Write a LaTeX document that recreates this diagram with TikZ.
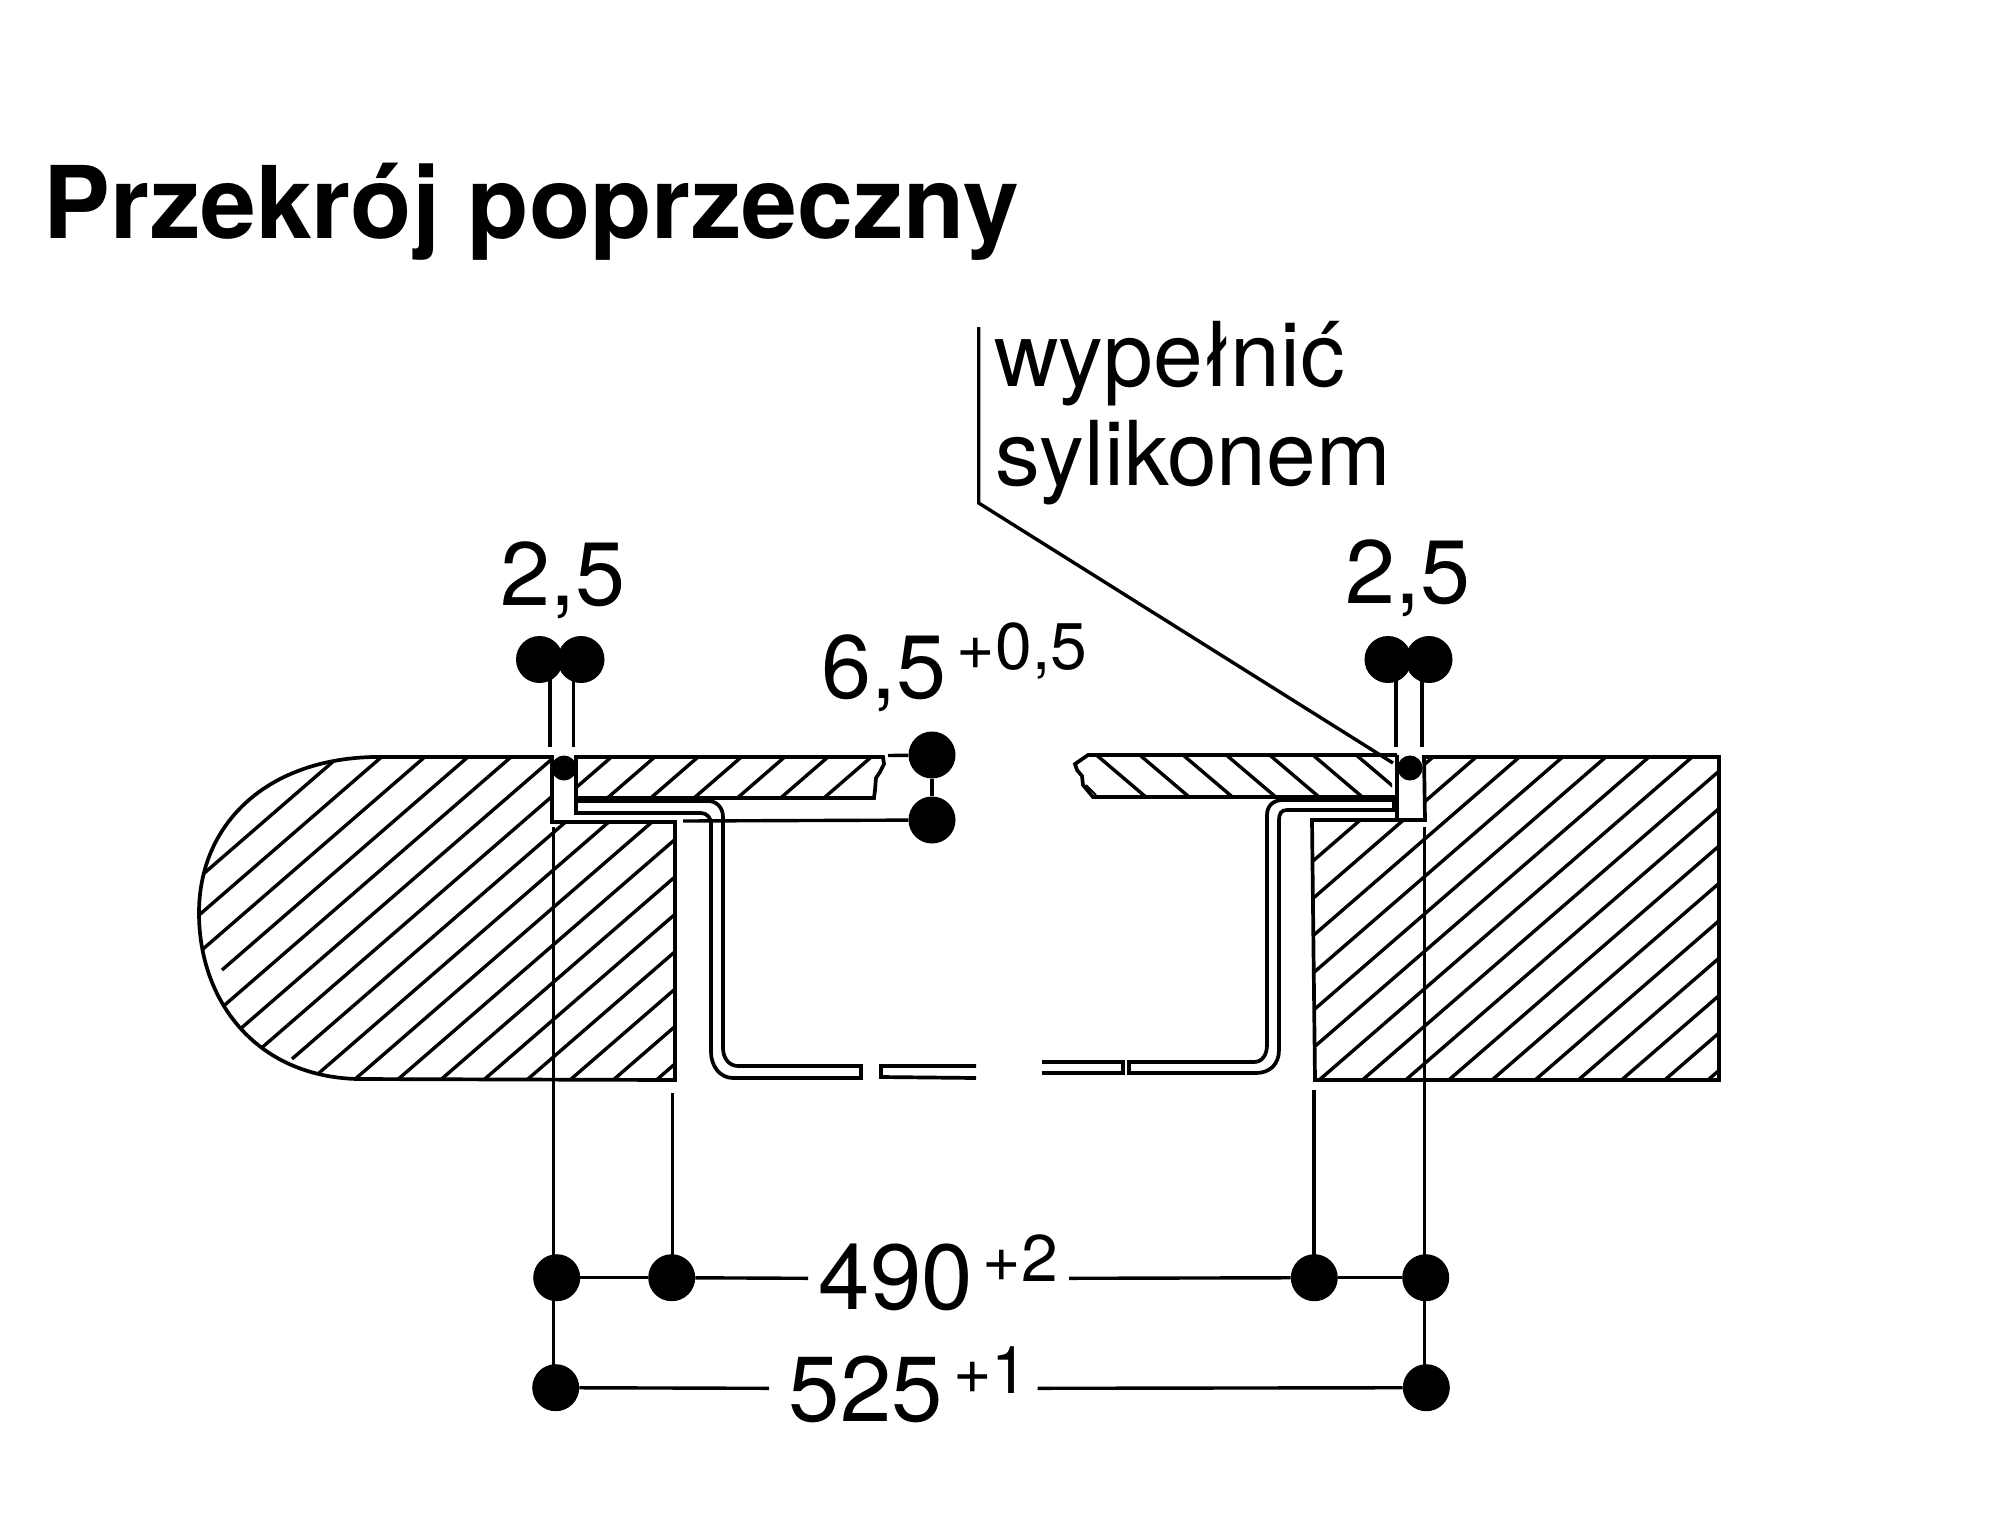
\documentclass[tikz,border=0pt]{standalone}
\usepackage{fontspec}
\setmainfont{TeX Gyre Heros}
\tikzset{
  outline/.style={line width=3.7pt,line join=miter},
  hatchline/.style={line width=3.4pt},
  dimline/.style={line width=3.4pt},
  dimdot/.style={circle,fill=black,inner sep=0pt,minimum size=47pt},
  sealdot/.style={circle,fill=black,inner sep=0pt,minimum size=25pt},
  big/.style={anchor=base,inner sep=0pt,font=\fontsize{90}{90}\selectfont},
  bigger/.style={anchor=base,inner sep=0pt,font=\fontsize{92.5}{92.5}\selectfont},
  small/.style={anchor=base,inner sep=0pt,font=\fontsize{66}{66}\selectfont},
  note/.style={anchor=base west,inner sep=0pt,font=\fontsize{89.5}{89.5}\selectfont},
  headline/.style={anchor=base,inner sep=0pt,font=\fontsize{100.3}{100.3}\selectfont\bfseries}
}
\begin{document}
\begin{tikzpicture}[x=1pt,y=-1pt]
\useasboundingbox (0,0) rectangle (2000,1535);

% --- hatching, left worktop
\begin{scope}
\clip (552,757) -- (552,822) -- (675,822) -- (675,1080) -- (357,1079)
  .. controls (255,1076) and (199,1000) .. (199,913)
  .. controls (199,825) and (265,760) .. (372,757) -- cycle;
\foreach \k in {-5,-4,-3,-1,0,1,3,4,5,6,7,8,9,10,11,12,13,14}{
  \pgfmathsetmacro{\cc}{1237+37.4*\k}
  \pgfmathsetmacro{\ya}{\cc-0.866*150}
  \pgfmathsetmacro{\yb}{\cc-0.866*750}
  \draw[hatchline] (150,\ya) -- (750,\yb);
}
\pgfmathsetmacro{\cc}{1237+37.4*(-2)}
\pgfmathsetmacro{\ya}{\cc-0.866*222}
\pgfmathsetmacro{\yb}{\cc-0.866*750}
\draw[hatchline] (222,\ya) -- (750,\yb);
\pgfmathsetmacro{\cc}{1237+37.4*2}
\pgfmathsetmacro{\ya}{\cc-0.866*292}
\pgfmathsetmacro{\yb}{\cc-0.866*750}
\draw[hatchline] (292,\ya) -- (750,\yb);
\end{scope}

% --- hatching, right worktop
\begin{scope}
\clip (1424,757) -- (1719,757) -- (1719,1080) -- (1315,1080) -- (1312,820) -- (1425,820) -- cycle;
\foreach \m in {0,1,...,15}{
  \pgfmathsetmacro{\cc}{1998+37.4*\m}
  \pgfmathsetmacro{\ya}{\cc-0.866*1250}
  \pgfmathsetmacro{\yb}{\cc-0.866*1800}
  \draw[hatchline] (1250,\ya) -- (1800,\yb);
}
\end{scope}

% --- hatching, left glass
\begin{scope}
\clip (576,757) -- (883,757) -- (884,764) -- (880,772) -- (876,778) -- (875,790) -- (874,798) -- (576,798) -- cycle;
\foreach \j in {-1,0,...,5}{
  \pgfmathsetmacro{\cc}{1324+37.5*\j}
  \pgfmathsetmacro{\ya}{\cc-0.866*500}
  \pgfmathsetmacro{\yb}{\cc-0.866*950}
  \draw[hatchline] (500,\ya) -- (950,\yb);
}
\end{scope}

% --- hatching, right glass
\begin{scope}
\clip (1088,755) -- (1392,755) -- (1392,797) -- (1093,797) -- (1083,785) -- (1082,776) -- (1077,770) -- (1075,764) -- cycle;
\foreach \j in {0,1,...,6}{
  \pgfmathsetmacro{\cc}{-177-36.8*\j}
  \pgfmathsetmacro{\ya}{\cc+0.85*1050}
  \pgfmathsetmacro{\yb}{\cc+0.85*1450}
  \draw[hatchline] (1050,\ya) -- (1450,\yb);
}
\end{scope}

% --- left worktop outline
\draw[outline] (552,757) -- (552,822) -- (675,822) -- (675,1080) -- (357,1079)
  .. controls (255,1076) and (199,1000) .. (199,913)
  .. controls (199,825) and (265,760) .. (372,757) -- cycle;
% --- right worktop outline
\draw[outline] (1424,757) -- (1719,757) -- (1719,1080) -- (1315,1080) -- (1312,820) -- (1425,820) -- cycle;
\draw[outline] (1397,755) -- (1397,820);

% --- glass
\draw[outline] (883,757) -- (576,757) -- (576,798) -- (874,798) -- (875,790) -- (876,778) -- (880,772) -- (884,764) -- cycle;
\draw[outline] (1397,755) -- (1088,755) -- (1075,764) -- (1077,770) -- (1082,776) -- (1083,785) -- (1093,797) -- (1397,797);
\draw[line width=2pt] (1086,785) -- (1096,795);

% --- frame, left half
\draw[outline] (576,801) -- (708,801) .. controls (717,801) and (723,808) .. (723,817)
  -- (723,1048) .. controls (723,1058) and (729,1066) .. (738,1066) -- (861,1066) -- (861,1078)
  -- (733,1078) .. controls (720,1078) and (711,1066) .. (711,1052)
  -- (711,824) .. controls (711,818) and (707,813) .. (701,813) -- (576,813) -- cycle;
\draw[outline] (976,1066) -- (881,1066) -- (881,1077) -- (976,1078);
% --- frame, right half
\draw[outline] (1394,800) -- (1283,800) .. controls (1273,800) and (1267,806) .. (1267,815)
  -- (1267,1045) .. controls (1267,1055) and (1262,1062) .. (1254,1062) -- (1129,1062) -- (1129,1073)
  -- (1256,1073) .. controls (1270,1073) and (1279,1064) .. (1279,1050)
  -- (1279,820) .. controls (1279,814) and (1281,810) .. (1287,810) -- (1394,810) -- cycle;
\draw[outline] (1042,1062) -- (1123,1062) -- (1123,1073) -- (1042,1073);

% --- silicone dots
\node[sealdot] (sealL) at (564,768) {};
\node[sealdot] (sealR) at (1410,768) {};

% --- dimension dots
\node[dimdot] (gapLa) at (539.5,659.5) {};
\node[dimdot] (gapLb) at (581,659.5) {};
\node[dimdot] (gapRa) at (1388,659.5) {};
\node[dimdot] (gapRb) at (1429,659.5) {};
\node[dimdot] (glassT) at (932,755) {};
\node[dimdot] (glassB) at (932,820) {};
\node[dimdot] (a1) at (556.7,1277.7) {};
\node[dimdot] (a2) at (671.7,1277.7) {};
\node[dimdot] (a3) at (1314.3,1277.7) {};
\node[dimdot] (a4) at (1425.7,1277.7) {};
\node[dimdot] (b1) at (555.7,1387.7) {};
\node[dimdot] (b2) at (1426.3,1387.7) {};

% --- free ends
\coordinate (tLa) at (550,747);
\coordinate (tLb) at (573.7,747);
\coordinate (tRa) at (1396,747);
\coordinate (tRb) at (1422,747);
\coordinate (glassTend) at (888,755.5);
\coordinate (glassBend) at (683,821);
\coordinate (extL) at (553.3,827);
\coordinate (extR) at (1424.3,827);
\coordinate (extLi) at (672.5,1093);
\coordinate (extRi) at (1314,1090);
\coordinate (a2end) at (808,1278.3);
\coordinate (a3end) at (1069,1278.3);
\coordinate (b1end) at (769,1388.3);
\coordinate (b2end) at (1037.7,1388.3);
\coordinate (leadTop) at (978.7,327);
\coordinate (leadKink) at (978.7,503);
\coordinate (leadEnd) at (1393,763);

% --- connectors
\draw[dimline] (tLa) -- (tLa |- gapLa);
\draw[dimline] (tLb) -- (tLb |- gapLb);
\draw[dimline] (tRa) -- (tRa |- gapRa);
\draw[dimline] (tRb) -- (tRb |- gapRb);
\draw[dimline] (glassT) -- (glassB);
\draw[dimline] (glassT) -- (glassTend);
\draw[dimline] (glassB) -- (glassBend);
\draw[dimline] (extL) -- (extL |- b1);
\draw[dimline] (extR) -- (extR |- b2);
\draw[dimline] (extLi) -- (extLi |- a2);
\draw[dimline] (extRi) -- (extRi |- a3);
\draw[dimline] (a1) -- (a2);
\draw[dimline] (a2) -- (a2end);
\draw[dimline] (a3end) -- (a3);
\draw[dimline] (a3) -- (a4);
\draw[dimline] (b1) -- (b1end);
\draw[dimline] (b2end) -- (b2);
\draw[dimline,line join=miter] (leadTop) -- (leadKink) -- (leadEnd);

% --- text
\node[headline] (title) at (531,238) {Przekrój poprzeczny};
\node[note] (noteA) at (994,386.7) {wypełnić};
\node[note] (noteB) at (995,485) {sylikonem};
\node[big] (t25L) at (563,605) {2,5};
\node[big] (t25R) at (1408,603) {2,5};
\node[big] (t65) at (884,698) {6,5};
\node[small] (t65t) at (1022,669) {+0,5};
\node[bigger] (t490) at (896,1309) {490};
\node[small] (t490t) at (1020.5,1281) {+2};
\node[bigger] (t525) at (866,1421.7) {525};
\node[small] (t525t) at (991,1393) {+1};
\end{tikzpicture}
\end{document}
